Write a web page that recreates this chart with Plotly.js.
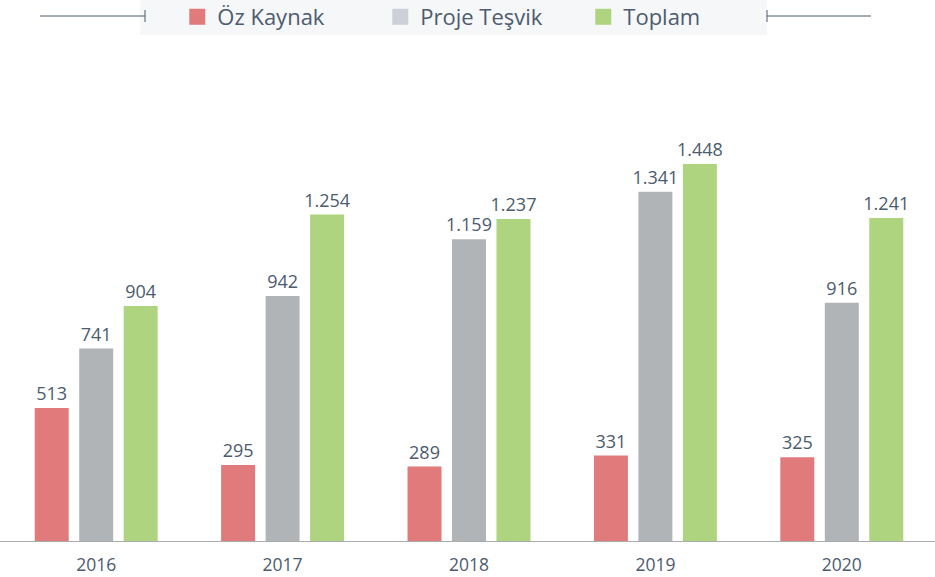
<!DOCTYPE html>
<html>
<head>
<meta charset="utf-8">
<script src="https://cdn.plot.ly/plotly-3.0.1.min.js"></script>
<style>html,body{margin:0;padding:0;background:#fff;}#chart{width:935px;height:577px;}</style>
</head>
<body>
<div id="chart"></div>
<script>
const years = ['2016', '2017', '2018', '2019', '2020'];
const seriesNames = ['Öz Kaynak', 'Proje Teşvik', 'Toplam'];
const ozKaynak = [513, 295, 289, 331, 325];
const projeTesvik = [741, 942, 1159, 1341, 916];
const toplam = [904, 1254, 1237, 1448, 1241];
const barColors = ['#e07a7b', '#b1b4b6', '#afd47f'];
const legendColors = ['#e07a7b', '#cdd0d8', '#afd47f'];

const textColor = '#4d5b6e';
const font = 'Open Sans, sans-serif';

const values = [ozKaynak, projeTesvik, toplam];
const traces = values.map((v, i) => ({
  type: 'bar',
  x: years,
  y: v,
  name: seriesNames[i],
  marker: {color: barColors[i]},
  texttemplate: '%{y:,}',
  textposition: 'outside',
  constraintext: 'none',
  textfont: {size: 18, color: textColor, family: font},
  cliponaxis: false,
  showlegend: false,
  hoverinfo: 'x+y+name'
}));
// legend entries
seriesNames.forEach((n, i) => {
  traces.push({
    type: 'scatter', mode: 'markers', x: [null], y: [null], name: n,
    marker: {symbol: 'square', size: 20, color: legendColors[i]},
    showlegend: true, hoverinfo: 'skip'
  });
});

const layout = {
  width: 935, height: 577,
  margin: {l: 3, r: 0, t: 72, b: 35, autoexpand: false},
  paper_bgcolor: '#ffffff', plot_bgcolor: '#ffffff',
  separators: ',.',
  font: {family: font, color: textColor},
  barmode: 'group',
  bargap: 0.284,
  bargroupgap: 0.236,
  xaxis: {
    type: 'category', range: [-0.5, 4.5], fixedrange: true, automargin: false,
    showgrid: false, zeroline: false, showline: false,
    ticks: '', ticklabelstandoff: 10,
    tickfont: {size: 17.5, color: textColor, family: font}
  },
  yaxis: {
    range: [0, 1800], visible: false, showgrid: false, zeroline: false
  },
  showlegend: true,
  legend: {
    orientation: 'h', x: 0.187, xanchor: 'left', y: 1.117, yanchor: 'middle',
    bgcolor: 'rgba(0,0,0,0)', entrywidth: 158,
    font: {size: 22, color: textColor, family: font}
  },
  shapes: [
    {type: 'rect', xref: 'paper', yref: 'paper', x0: (140-3)/932, x1: (767-3)/932,
     y0: (542-35)/470, y1: 542/470, fillcolor: '#f6f7f9', line: {width: 0}, layer: 'below'},
    {type: 'line', xref: 'paper', yref: 'paper', x0: (40-3)/932, x1: (145-3)/932,
     y0: (542-16)/470, y1: (542-16)/470, line: {color: '#4d5b6e', width: 1}},
    {type: 'line', xref: 'paper', yref: 'paper', x0: (145-3)/932, x1: (145-3)/932,
     y0: (542-10)/470, y1: (542-22)/470, line: {color: '#4d5b6e', width: 1}},
    {type: 'line', xref: 'paper', yref: 'paper', x0: (767-3)/932, x1: (871-3)/932,
     y0: (542-16)/470, y1: (542-16)/470, line: {color: '#4d5b6e', width: 1}},
    {type: 'line', xref: 'paper', yref: 'paper', x0: (767-3)/932, x1: (767-3)/932,
     y0: (542-10)/470, y1: (542-22)/470, line: {color: '#4d5b6e', width: 1}},
    {type: 'line', xref: 'paper', yref: 'y', x0: -3/932, x1: 1, y0: 0, y1: 0,
     line: {color: '#a9abad', width: 2}}
  ]
};

Plotly.newPlot('chart', traces, layout, {displayModeBar: false, staticPlot: true});
</script>
</body>
</html>
